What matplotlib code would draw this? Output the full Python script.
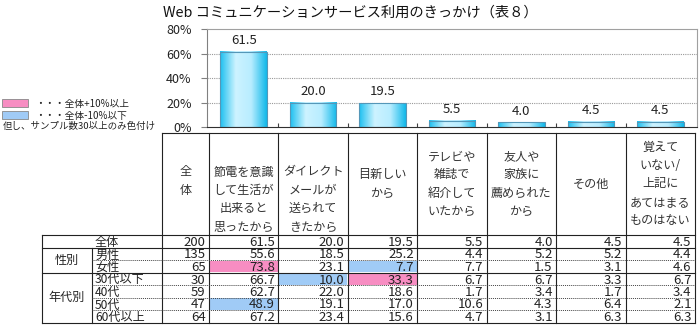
import matplotlib.pyplot as plt
import numpy as np
from matplotlib.colors import LinearSegmentedColormap

plt.rcParams['font.family'] = ['Noto Sans CJK JP', 'DejaVu Sans']

# data
title = "Web コミュニケーションサービス利用のきっかけ（表８）"
categories = ["節電を意識\nして生活が\n出来ると\n思ったから",
              "ダイレクト\nメールが\n送られて\nきたから",
              "目新しい\nから",
              "テレビや\n雑誌で\n紹介して\nいたから",
              "友人や\n家族に\n薦められた\nから",
              "その他",
              "覚えて\nいない/\n上記に\nあてはまる\nものはない"]
overall = [61.5, 20.0, 19.5, 5.5, 4.0, 4.5, 4.5]
yticks = [0, 20, 40, 60, 80]

row_labels = ["全体", "男性", "女性", "30代以下", "40代", "50代", "60代以上"]
group_labels = ["性別", "年代別"]
sample_n = [200, 135, 65, 30, 59, 47, 64]
table_values = [
    [61.5, 20.0, 19.5, 5.5, 4.0, 4.5, 4.5],
    [55.6, 18.5, 25.2, 4.4, 5.2, 5.2, 4.4],
    [73.8, 23.1, 7.7, 7.7, 1.5, 3.1, 4.6],
    [66.7, 10.0, 33.3, 6.7, 6.7, 3.3, 6.7],
    [62.7, 22.0, 18.6, 1.7, 3.4, 1.7, 3.4],
    [48.9, 19.1, 17.0, 10.6, 4.3, 6.4, 2.1],
    [67.2, 23.4, 15.6, 4.7, 3.1, 6.3, 6.3],
]

PINK = '#F78DC2'
BLUE = '#A0CBF6'

fig = plt.figure(figsize=(7, 3.3), dpi=100)
W, H = 700, 330

# ---- bar chart ----
col_w = (695 - 209) / 7
pad = 2 / col_w
ax = fig.add_axes([207 / W, 1 - 127.3 / H, 490 / W, 98.3 / H])
x = np.arange(len(overall))
bars = ax.bar(x, overall, width=0.67, color='none', edgecolor='#5597B8', lw=0.8, zorder=3)
cmap = LinearSegmentedColormap.from_list('g', ['#1EC0F0', '#CDF3FF', '#B8EDFF', '#12B9EA'])
grad = np.linspace(0, 1, 100).reshape(1, -1)
for b in bars:
    ax.imshow(grad, extent=[b.get_x(), b.get_x() + b.get_width(), 0, b.get_height()],
              cmap=cmap, aspect='auto', zorder=2)
for xi, v in zip(x, overall):
    ax.annotate(f"{v:.1f}", (xi, v), xytext=(0, 3.5), textcoords='offset points',
                ha='center', va='bottom', fontsize=9.5, color='#222222')
ax.set_xlim(-0.5 - pad, len(overall) - 0.5 + pad)
ax.set_ylim(0, 80)
for yv in yticks[1:-1]:
    ax.axhline(yv, color='#999999', ls=(0, (1, 1)), lw=0.8, zorder=1)
ax.set_yticks(yticks)
ax.set_yticklabels([f"{t}%" for t in yticks], fontsize=9, color='#222222')
ax.tick_params(axis='y', length=4, color='#808080', pad=7)
ax.set_xticks(x[:-1] + 0.5)
ax.set_xticklabels([])
ax.tick_params(axis='x', direction='in', length=3, color='#404040')
for s in ['top', 'right']:
    ax.spines[s].set_color('#A0A0A0')
ax.spines['left'].set_color('#808080')
ax.spines['bottom'].set_color('#303030')
for s in ax.spines.values():
    s.set_linewidth(0.8)

fig.text(0.5, 1 - 13 / H, title, ha='center', va='center', fontsize=10.3, color='#111111')

# ---- table (pixel coordinates) ----
tab = fig.add_axes([0, 0, 1, 1])
tab.set_xlim(0, W)
tab.set_ylim(H, 0)
tab.axis('off')
tab.patch.set_visible(False)

edges = [162] + [209 + col_w * i for i in range(8)]
head_top, head_bot = 132.5, 235.3
row_h = 12.5
rows_y = [head_bot + row_h * i for i in range(len(row_labels) + 1)]
lx0, lx1 = 41.7, 92
lk = dict(color='#222222', lw=0.8)
dk = dict(color='#444444', lw=0.7, ls=(0, (1, 1)))

tab.plot([edges[0], edges[-1]], [head_top, head_top], **lk)
for e in edges:
    tab.plot([e, e], [head_top, rows_y[-1]], **lk)
tab.plot([lx0, lx0], [rows_y[0], rows_y[-1]], **lk)
tab.plot([lx1, lx1], [rows_y[1], rows_y[-1]], **lk)
solid_rows = {0, 1, 3, 7}
for i, yy in enumerate(rows_y):
    if i in solid_rows:
        tab.plot([lx0, edges[-1]], [yy, yy], **lk)
    else:
        tab.plot([lx1, edges[-1]], [yy, yy], **dk)

# header text
line_h = 18.4
cols_text = ["全\n体"] + categories
for j, txt in enumerate(cols_text):
    lines = txt.split("\n")
    cx = (edges[j] + edges[j + 1]) / 2
    if j < 3:
        y0 = 172
    else:
        y0 = 184 - line_h * (len(lines) - 1) / 2
    for k, ln in enumerate(lines):
        tab.text(cx, y0 + line_h * k, ln, ha='center', va='center', fontsize=8.7, color='#333333')

# body
for i, lab in enumerate(row_labels):
    base = rows_y[i + 1] - 1.8
    tab.text(95, base, lab, ha='left', va='baseline', fontsize=8.7, color='#222222')
    tab.text(edges[1] - 3.5, base, str(sample_n[i]), ha='right', va='baseline', fontsize=9.5, color='#222222')
    for j, v in enumerate(table_values[i]):
        diff = v - table_values[0][j]
        if i > 0 and sample_n[i] >= 30:
            c = PINK if diff >= 9.95 else BLUE if diff <= -9.95 else None
            if c:
                tab.add_patch(plt.Rectangle((edges[j + 1] + 0.6, rows_y[i] + 0.6),
                                            col_w - 1.2, row_h - 1.2, color=c, lw=0, zorder=0))
        tab.text(edges[j + 2] - 3.5, base, f"{v:.1f}", ha='right', va='baseline', fontsize=9.5, color='#222222')

tab.text((lx0 + lx1) / 2, (rows_y[1] + rows_y[3]) / 2, group_labels[0], ha='center', va='center', fontsize=8.7, color='#222222')
tab.text((lx0 + lx1) / 2, (rows_y[3] + rows_y[7]) / 2, group_labels[1], ha='center', va='center', fontsize=8.7, color='#222222')

# legend
tab.add_patch(plt.Rectangle((1.7, 99.3), 26.5, 8, facecolor=PINK, edgecolor='#888888', lw=0.6))
tab.add_patch(plt.Rectangle((1.7, 110.7), 26.5, 8, facecolor=BLUE, edgecolor='#888888', lw=0.6))
tab.text(35, 104, "・・・全体+10%以上", ha='left', va='center', fontsize=7, color='#222222')
tab.text(35, 116, "・・・全体-10%以下", ha='left', va='center', fontsize=7, color='#222222')
tab.text(3, 126, "但し、サンプル数30以上のみ色付け", ha='left', va='center', fontsize=6.8, color='#222222')

fig.savefig('out.png', dpi=100)
